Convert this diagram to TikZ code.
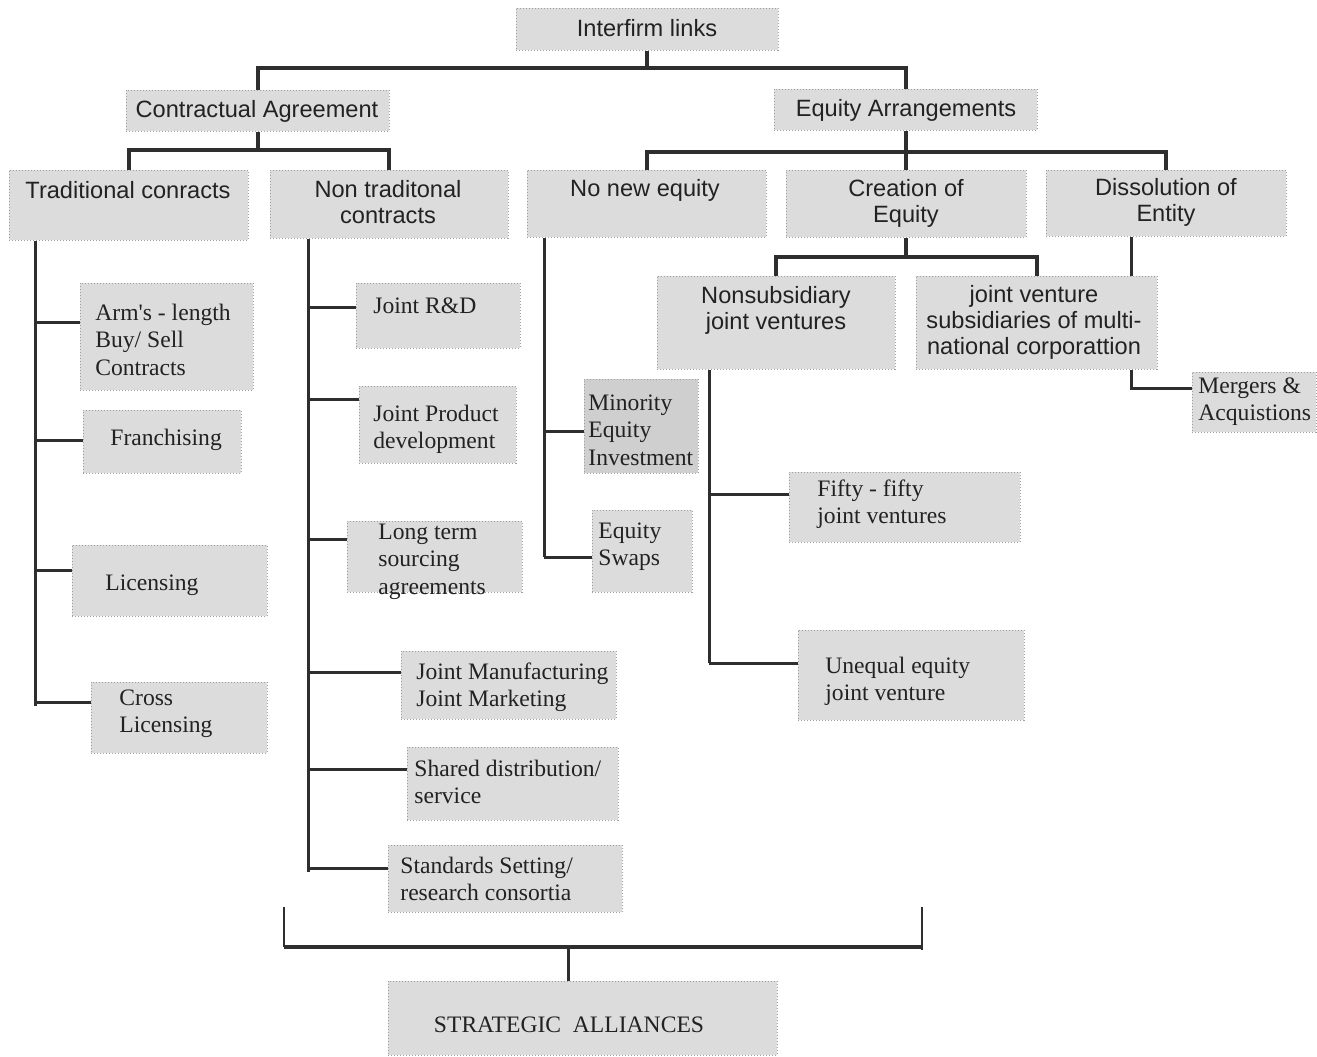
\documentclass[tikz,border=0pt]{standalone}
\usepackage{fontspec}
\setmainfont{Liberation Serif}
\setsansfont{Liberation Sans}
\usetikzlibrary{fit}
\definecolor{boxgray}{HTML}{DCDCDC}
\definecolor{boxdark}{HTML}{CFCFCF}
\definecolor{ink}{HTML}{222222}
\definecolor{lineink}{HTML}{2E2E2E}
\tikzset{
  box/.style={draw=gray!75, densely dotted, line width=0.5pt, fill=boxgray, inner sep=0pt},
  sf/.style={font=\sffamily\fontsize{11.8}{13}\selectfont, inner sep=0pt, align=center, text=ink, anchor=base},
  rm/.style={font=\rmfamily\fontsize{11.8}{13.75}\selectfont, inner sep=0pt, align=left, text=ink, anchor=base west},
  mainline/.style={draw=lineink, line width=2pt},
  branchline/.style={draw=lineink, line width=1.5pt},
  tickline/.style={draw=lineink, line width=1.2pt},
}
\newcommand\bx[6][box]{\node[#1, fit={(#3,#4) (#5,#6)}] (#2) {};}
\begin{document}
\begin{tikzpicture}[x=0.5pt, y=-0.5pt]
\fill[white] (0,0) rectangle (1317,1056);
\useasboundingbox (0,0) rectangle (1317,1056);

% boxes
\bx{interfirm}{516}{8}{778}{50}
\bx{contractual}{126}{90}{389}{131}
\bx{equity}{774}{89}{1037}{130}
\bx{trad}{9}{170}{248}{240}
\bx{nontrad}{270}{170}{508}{238}
\bx{noneq}{527}{170}{766}{237}
\bx{creation}{786}{170}{1026}{237}
\bx{dissol}{1046}{170}{1286}{236}
\bx{nonsub}{657}{276}{895}{369}
\bx{jvsub}{916}{276}{1157}{369}
\bx{mergers}{1192}{372}{1316}{432}
\bx{arm}{80}{283}{253}{390}
\bx{franch}{83}{410}{241}{473}
\bx{lic}{72}{545}{267}{616}
\bx{cross}{91}{682}{267}{753}
\bx{jrd}{356}{283}{520}{348}
\bx{jpd}{359}{386}{516}{463}
\bx{longterm}{347}{521}{522}{592}
\bx{jman}{401}{651}{616}{719}
\bx{shared}{407}{747}{618}{820}
\bx{standards}{388}{845}{622}{912}
\bx[box,fill=boxdark]{minority}{584}{379}{698}{473}
\bx{swaps}{592}{510}{692}{592}
\bx{fifty}{789}{472}{1020}{542}
\bx{unequal}{798}{630}{1024}{720}
\bx{alliances}{388}{981}{777}{1055}

% texts (anchor = baseline of the last line)
\node[sf] (t-interfirm) at (647,36.5) {Interfirm links};
\node[sf] (t-contractual) at (257,117.5) {Contractual Agreement};
\node[sf] (t-equity) at (906,116.5) {Equity Arrangements};
\node[sf] (t-trad) at (128,198.5) {Traditional conracts};
\node[sf] (t-nontrad) at (388,223.5) {Non traditonal\\contracts};
\node[sf] (t-noneq) at (645,196.5) {No new equity};
\node[sf] (t-creation) at (906,222.5) {Creation of\\Equity};
\node[sf] (t-dissol) at (1166,221.5) {Dissolution of\\Entity};
\node[sf] (t-nonsub) at (776,329.5) {Nonsubsidiary\\joint ventures};
\node[sf] (t-jvsub) at (1034,354.5) {joint venture\\subsidiaries of multi-\\national corporattion};

\node[rm] (t-mergers) at (1198,420.5) {Mergers \&\\Acquistions};
\node[rm] (t-arm) at (95,375) {Arm\textquotesingle s - length\\Buy/ Sell\\Contracts};
\node[rm] (t-franch) at (110,445) {Franchising};
\node[rm] (t-lic) at (105,590) {Licensing};
\node[rm] (t-cross) at (119,732.5) {Cross\\Licensing};
\node[rm] (t-jrd) at (373,313) {Joint R\&D};
\node[rm] (t-jpd) at (373,448.5) {Joint Product\\development};
\node[rm] (t-longterm) at (378,594) {Long term\\sourcing\\agreements};
\node[rm] (t-jman) at (416,706.5) {Joint Manufacturing\\Joint Marketing};
\node[rm] (t-shared) at (414,803.5) {Shared distribution/\\service};
\node[rm] (t-standards) at (400,900.5) {Standards Setting/\\research consortia};
\node[rm] (t-minority) at (588,465) {Minority\\Equity\\Investment};
\node[rm] (t-swaps) at (598,565.5) {Equity\\Swaps};
\node[rm] (t-fifty) at (817,523.5) {Fifty - fifty\\joint ventures};
\node[rm] (t-unequal) at (825,700.5) {Unequal equity\\joint venture};
\node[rm, anchor=base] (t-alliances) at (569,1032) {STRATEGIC\ \ ALLIANCES};

% tree connectors
\coordinate (j0) at (647,68);
\draw[mainline] (interfirm.south) -- (j0);
\draw[mainline] (contractual.north) |- (j0) -| (equity.north);

\coordinate (j1) at (257.5,150);
\draw[mainline] (contractual.south) -- (j1);
\draw[mainline] (trad.north) |- (j1) -| (nontrad.north);

\coordinate (j2) at (906,152);
\draw[mainline] (equity.south -| j2) -- (creation.north -| j2);
\draw[mainline] (noneq.north) |- (j2) -| (dissol.north);

\coordinate (j3) at (906,257);
\draw[mainline] (creation.south -| j3) -- (j3);
\draw[mainline] (nonsub.north) |- (j3) -| (jvsub.north);

\coordinate (dx) at (1131,388);
\draw[branchline] (dissol.south -| dx) -- (jvsub.north -| dx);
\draw[branchline] (jvsub.south -| dx) -- (dx) -- (dx -| mergers.west);

% traditional column
\coordinate (tend) at (35,706);
\coordinate (tb1) at (35,322);
\coordinate (tb2) at (35,440);
\coordinate (tb3) at (35,570);
\coordinate (tb4) at (35,702);
\draw[branchline] (trad.south -| tend) -- (tend);
\draw[branchline] (tb1) -- (tb1 -| arm.west);
\draw[branchline] (tb2) -- (tb2 -| franch.west);
\draw[branchline] (tb3) -- (tb3 -| lic.west);
\draw[branchline] (tb4) -- (tb4 -| cross.west);

% non traditional column
\coordinate (nend) at (308,872);
\coordinate (nb1) at (308,307);
\coordinate (nb2) at (308,399);
\coordinate (nb3) at (308,539);
\coordinate (nb4) at (308,672);
\coordinate (nb5) at (308,769);
\coordinate (nb6) at (308,868);
\draw[branchline] (nontrad.south -| nend) -- (nend);
\draw[branchline] (nb1) -- (nb1 -| jrd.west);
\draw[branchline] (nb2) -- (nb2 -| jpd.west);
\draw[branchline] (nb3) -- (nb3 -| longterm.west);
\draw[branchline] (nb4) -- (nb4 -| jman.west);
\draw[branchline] (nb5) -- (nb5 -| shared.west);
\draw[branchline] (nb6) -- (nb6 -| standards.west);

% no new equity column
\coordinate (eb1) at (544,431);
\coordinate (eb2) at (544,557);
\draw[branchline] (noneq.south -| eb2) -- (eb2);
\draw[branchline] (eb1) -- (eb1 -| minority.west);
\draw[branchline] (eb2) -- (eb2 -| swaps.west);

% nonsubsidiary column
\coordinate (sb1) at (709,494);
\coordinate (sb2) at (709,663);
\draw[branchline] (nonsub.south -| sb2) -- (sb2);
\draw[branchline] (sb1) -- (sb1 -| fifty.west);
\draw[branchline] (sb2) -- (sb2 -| unequal.west);

% bottom bracket
\coordinate (bltop) at (284,907);
\coordinate (bl) at (284,947);
\coordinate (brtop) at (922,907);
\coordinate (br) at (922,947);
\coordinate (bm) at (568,947);
\draw[tickline] (bltop) -- (bl);
\draw[tickline] (brtop) -- ([yshift=-1.5pt]br);
\draw[mainline] (bl) -- (br);
\draw[branchline] (bm) -- (bm |- alliances.north);
\end{tikzpicture}
\end{document}
